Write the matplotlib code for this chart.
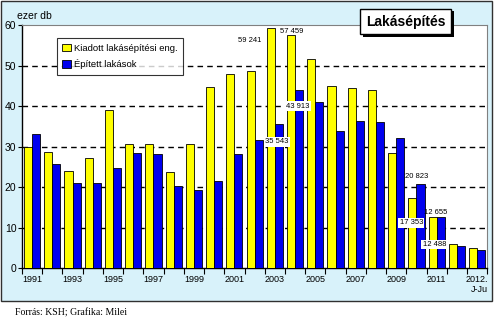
import numpy as np
import matplotlib
matplotlib.use("Agg")
import matplotlib.pyplot as plt
from matplotlib.patches import Rectangle
from matplotlib.ticker import FixedLocator

plt.rcParams['font.family'] = ['Liberation Sans', 'DejaVu Sans']

# ezer db
years = [str(y) for y in range(1991, 2012)] + ['2011 J-Ju', '2012. J-Ju']
tick_labels = ['1991', '', '1993', '', '1995', '', '1997', '', '1999', '', '2001', '',
               '2003', '', '2005', '', '2007', '', '2009', '', '2011', '', '2012.\nJ-Ju']
kiadott = [30.0, 28.7, 23.9, 27.1, 39.1, 30.6, 30.6, 23.6, 30.6, 44.8, 47.8, 48.6,
           59.2, 57.5, 51.5, 45.0, 44.4, 44.0, 28.4, 17.4, 12.5, 6.0, 5.0]
epitett = [33.2, 25.8, 20.9, 20.9, 24.7, 28.3, 28.1, 20.3, 19.3, 21.6, 28.1, 31.5,
           35.5, 43.9, 41.1, 33.9, 36.2, 36.1, 32.0, 20.8, 12.7, 5.5, 4.5]
# (year index, series, label text)
labels = [(12, 'k', '59 241'), (13, 'k', '57 459'), (13, 'e', '43 913'), (12, 'e', '35 543'),
          (19, 'e', '20 823'), (19, 'k', '17 353'), (20, 'e', '12 655'), (20, 'k', '12 488')]

fig = plt.figure(figsize=(4.95, 3.21), dpi=100)
fig.patch.set_facecolor('white')
fig.patches.append(Rectangle((0.002, 0.062), 0.992, 0.935, transform=fig.transFigure,
                             facecolor='#d8f2fa', edgecolor='#303030', lw=1.0, zorder=-5))

ax = fig.add_axes([0.0444, 0.165, 0.940, 0.757])
ax.set_facecolor('white')
x = np.arange(len(years))
w = 0.40
ax.bar(x - w / 2, kiadott, w, color='#ffff00', edgecolor='black', lw=0.6,
       label='Kiadott lakásépítési eng.', zorder=3)
ax.bar(x + w / 2, epitett, w, color='#0000ee', edgecolor='black', lw=0.6,
       label='Épített lakások', zorder=3)

ax.set_xlim(-0.5, len(years) - 0.5)
ax.set_ylim(0, 60)
ax.set_yticks(range(0, 61, 10))
ax.tick_params(axis='y', labelsize=7.5, length=3, pad=1)
ax.set_xticks(x)
ax.set_xticklabels(tick_labels, fontsize=6.5, ha='center', multialignment='right')
ax.tick_params(axis='x', length=0, pad=5)
ax.xaxis.set_minor_locator(FixedLocator(np.arange(-0.5, len(years), 1)))
ax.tick_params(axis='x', which='minor', length=4, width=0.8)
for y in range(10, 60, 10):
    ax.axhline(y, color='black', lw=1.0, ls=(0, (4, 3)), zorder=1)
for s in ['top', 'right']:
    ax.spines[s].set_color('#808080')
    ax.spines[s].set_linewidth(0.8)
for s in ['left', 'bottom']:
    ax.spines[s].set_linewidth(1.0)

offsets = {'59 241': (-0.65, -3.1, 'right'), '57 459': (-0.17, 0.8, 'center'),
           '43 913': (0.12, -3.9, 'center'), '35 543': (0.09, -4.3, 'center'),
           '20 823': (0.0, 1.8, 'center'), '17 353': (-0.25, -6.2, 'center'),
           '12 655': (-0.07, 1.0, 'center'), '12 488': (-0.12, -6.7, 'center')}
for i, ser, txt in labels:
    v = kiadott[i] if ser == 'k' else epitett[i]
    dx, dy, ha = offsets[txt]
    boxed = txt in ('43 913', '35 543', '17 353', '12 488')
    ax.text(i + dx, v + dy, txt, fontsize=5.5, ha=ha, va='center', zorder=5,
            bbox=dict(facecolor='white', edgecolor='none', pad=1) if boxed else None)

leg = ax.legend(loc='upper left', bbox_to_anchor=(0.075, 0.945), borderaxespad=0,
                fontsize=6.8, frameon=True, fancybox=False, handlelength=0.9,
                handleheight=0.9, borderpad=0.55, labelspacing=0.7, handletextpad=0.4)
leg.get_frame().set_edgecolor('black')
leg.get_frame().set_linewidth(0.8)

ax.text(-0.01, 1.037, 'ezer db', transform=ax.transAxes, fontsize=7.5, ha='left', va='center')

title = fig.text(0.82, 0.933, 'Lakásépítés', fontsize=10, fontweight='bold', ha='center',
                 va='center', zorder=10,
                 bbox=dict(facecolor='white', edgecolor='black', lw=1.0, boxstyle='square,pad=0.42'))
fig.canvas.draw()
bb = title.get_bbox_patch().get_window_extent().transformed(fig.transFigure.inverted())
fig.patches.append(Rectangle((bb.x0 + 2.5 / 495, bb.y0 - 2.5 / 321), bb.width, bb.height,
                             transform=fig.transFigure, facecolor='black', edgecolor='none',
                             zorder=9))

fig.text(0.03, 0.025, 'Forrás: KSH; Grafika: Milei', fontsize=7, family='Liberation Serif',
         ha='left', va='center')

fig.savefig('out.png', dpi=100)
